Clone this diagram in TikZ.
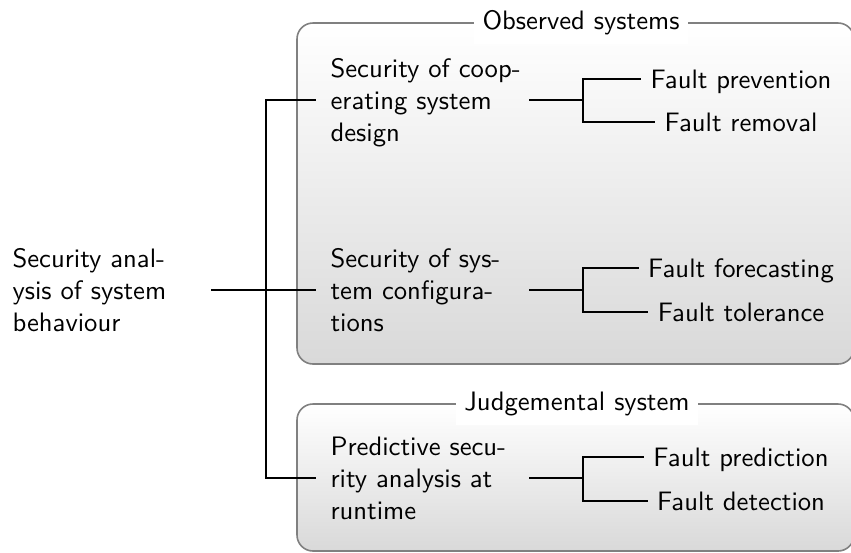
\documentclass[tikz,border=0pt]{standalone}
\usepackage{fontspec}
\usetikzlibrary{calc}
\begin{document}
\begin{tikzpicture}[x=0.375pt,y=-0.375pt,
  every node/.style={font=\sffamily},
  group/.style={draw=black!50, line width=0.6pt, rounded corners=6pt,
    top color=white, bottom color=black!15},
  grouptitle/.style={fill=white, inner sep=3.33pt},
  topic/.style={align=left, text width=69pt, text height=6.94pt, text depth=24pt,
    inner xsep=5.25pt, inner ysep=2pt, anchor=west},
  leaf/.style={inner sep=3.33pt, text depth=0pt},
  link/.style={draw=black, line width=0.5pt}]
\useasboundingbox (0,0) rectangle (851,552);

% grouping panels
\shade[group] (297,23) rectangle (854,364);
\shade[group] (297,404) rectangle (854,551);
\node[grouptitle] (obs) at (581,23) {Observed systems};
\node[grouptitle] (jud) at (577,404) {Judgemental system};

% root and the three analysis areas
\node[topic] (root) at (-2,290)
  {\mbox{Security anal-}\\\mbox{ysis of system}\\behaviour};
\node[topic] (c1) at (316,100)
  {\mbox{Security of coop-}\\\mbox{erating system}\\design};
\node[topic] (c2) at (316,290)
  {\mbox{Security of sys-}\\\mbox{tem configura-}\\tions};
\node[topic] (c3) at (316,478)
  {\mbox{Predictive secu-}\\\mbox{rity analysis at}\\runtime};

% fault categories
\node[leaf] (l11) at (741,79)  {Fault prevention};
\node[leaf] (l12) at (741,122) {Fault removal};
\node[leaf] (l21) at (741,268) {Fault forecasting};
\node[leaf] (l22) at (741,312) {Fault tolerance};
\node[leaf] (l31) at (741,457) {Fault prediction};
\node[leaf] (l32) at (741,501) {Fault detection};

% trunk from the root
\coordinate (trunk) at ($(root.east)+(55,0)$);
\draw[link] (root.east) -- (trunk) -- (c2.west);
\draw[link] (trunk) |- (c1.west);
\draw[link] (trunk) |- (c3.west);

% forks to the fault categories
\coordinate (f1) at ($(c1.east)+(54,0)$);
\coordinate (f2) at ($(c2.east)+(54,0)$);
\coordinate (f3) at ($(c3.east)+(54,0)$);
\draw[link] (c1.east) -- (f1) |- (l11.west);
\draw[link] (f1) |- (l12.west);
\draw[link] (c2.east) -- (f2) |- (l21.west);
\draw[link] (f2) |- (l22.west);
\draw[link] (c3.east) -- (f3) |- (l31.west);
\draw[link] (f3) |- (l32.west);
\end{tikzpicture}
\end{document}
